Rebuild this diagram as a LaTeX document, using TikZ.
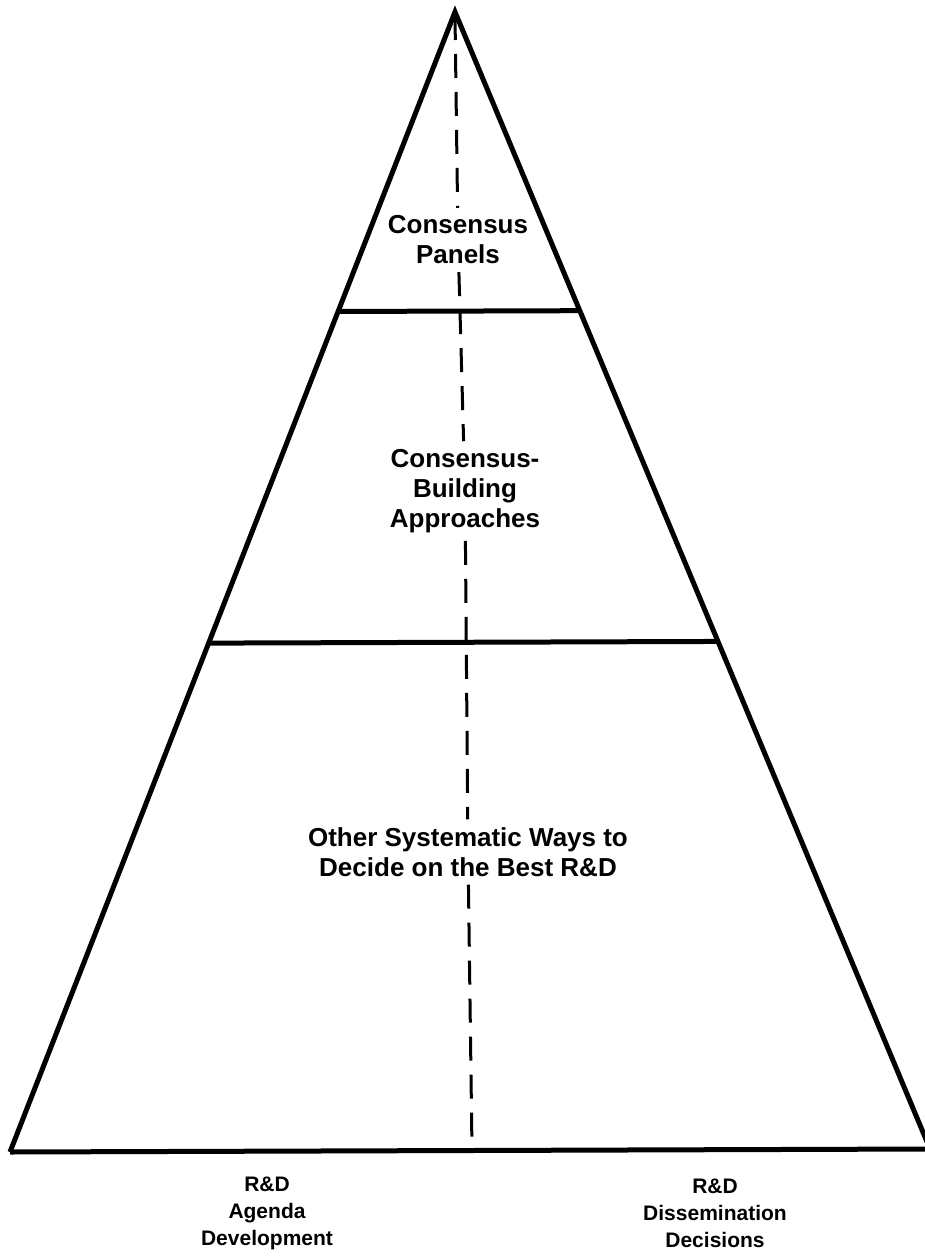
\documentclass[tikz,border=0pt]{standalone}
\usepackage{fontspec}
\setmainfont{Liberation Sans}
\usetikzlibrary{calc}

\begin{document}
\begin{tikzpicture}[x=1pt,y=-1pt,
        tiertext/.style={align=center,font=\bfseries\fontsize{26}{30}\selectfont,inner sep=0pt,outer sep=8pt},
        foottext/.style={align=center,font=\bfseries\fontsize{21}{27}\selectfont,inner sep=0pt},
        axis/.style={line width=3pt,dash pattern=on 24pt off 14pt}]
        \useasboundingbox (0,0) rectangle (925,1260);
        \coordinate (apex) at (455,12);
        \coordinate (bl) at (10,1152);
        \coordinate (br) at (930,1149);
        \coordinate (t1l) at ($(apex)!0.2627!(bl)$);
        \coordinate (t1r) at ($(apex)!0.2627!(br)$);
        \coordinate (t2l) at ($(apex)!0.5536!(bl)$);
        \coordinate (t2r) at ($(apex)!0.5536!(br)$);
        \coordinate (axtop) at (455,16);
        \coordinate (axbot) at (472,1150);
        \draw[line width=5pt,line join=miter] (bl) -- (apex) -- (br);
        \draw[line width=5pt] (bl) -- (br);
        \draw[line width=5pt] (t1l) -- (t1r);
        \draw[line width=5pt] (t2l) -- (t2r);
        \node[tiertext] (panels) at (458,240) {Consensus\\Panels};
        \node[tiertext] (building) at (465,491) {Consensus-\\Building\\Approaches};
        \node[tiertext] (other) at (468,852) {Other Systematic Ways to\\Decide on the Best R\&D};
        \node[foottext] (agenda) at (267,1213) {R\&D\\Agenda\\Development};
        \node[foottext] (dissem) at (715,1213) {R\&D\\Dissemination\\Decisions};
        \draw[axis] (axtop) -- (panels);
        \draw[axis] (panels) -- (building);
        \draw[axis] (building) -- (other);
        \draw[axis] (other) -- (axbot);
\end{tikzpicture}
\end{document}
